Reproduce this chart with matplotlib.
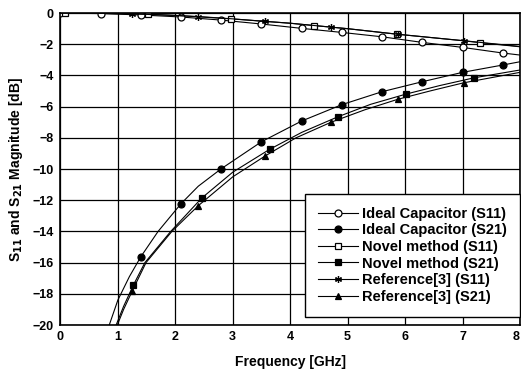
import matplotlib
matplotlib.use("Agg")
import matplotlib.pyplot as plt

plt.rcParams['font.family'] = ['Liberation Sans', 'DejaVu Sans']

# ---- data ----
# Ideal capacitor S11 (line points = marker points plus end)
ideal_s11_f = [0.0, 0.7, 1.4, 2.1, 2.8, 3.5, 4.2, 4.9, 5.6, 6.3, 7.0, 7.7, 8.0]
ideal_s11_db = [0.0, -0.03, -0.12, -0.25, -0.45, -0.7, -0.98, -1.24, -1.52, -1.88, -2.2, -2.56, -2.69]
ideal_s11_mk_f = [0.0, 0.7, 1.4, 2.1, 2.8, 3.5, 4.2, 4.9, 5.6, 6.3, 7.0, 7.7]

# Ideal capacitor S21
ideal_s21_f = [0.85, 1.0, 1.2, 1.4, 1.7, 2.1, 2.4, 2.8, 3.5, 4.2, 4.9, 5.6, 6.3, 7.0, 7.7, 8.0]
ideal_s21_db = [-20.0, -18.4, -16.9, -15.62, -14.0, -12.22, -11.1, -9.98, -8.25, -6.92, -5.87, -5.04, -4.40, -3.80, -3.33, -3.12]
ideal_s21_mk_f = [1.4, 2.1, 2.8, 3.5, 4.2, 4.9, 5.6, 6.3, 7.0, 7.7]

# Novel method S11
novel_s11_f = [0.0, 0.08, 1.0, 1.53, 2.0, 2.97, 4.0, 4.42, 5.0, 5.86, 7.0, 7.31, 8.0]
novel_s11_db = [0.0, 0.0, -0.03, -0.07, -0.15, -0.37, -0.65, -0.8, -1.0, -1.35, -1.77, -1.9, -2.16]
novel_s11_mk_f = [0.08, 1.53, 2.97, 4.42, 5.86, 7.31]

# Novel method S21
novel_s21_f = [0.97, 1.1, 1.27, 1.47, 1.92, 2.46, 3.0, 3.64, 4.2, 4.83, 5.4, 6.02, 6.6, 7.20, 8.0]
novel_s21_db = [-20.0, -18.8, -17.44, -16.0, -14.0, -11.86, -10.2, -8.74, -7.65, -6.65, -5.85, -5.19, -4.65, -4.15, -3.65]
novel_s21_mk_f = [1.27, 2.46, 3.64, 4.83, 6.02, 7.20]

# Reference[3] S11
ref_s11_f = [0.0, 1.0, 1.25, 2.0, 2.40, 3.0, 3.56, 4.0, 4.71, 5.0, 5.87, 7.02, 8.0]
ref_s11_db = [0.0, -0.03, -0.05, -0.15, -0.22, -0.37, -0.53, -0.65, -0.9, -1.0, -1.36, -1.77, -2.14]
ref_s11_mk_f = [1.25, 2.40, 3.56, 4.71, 5.87, 7.02]

# Reference[3] S21
ref_s21_f = [0.99, 1.1, 1.25, 1.49, 1.94, 2.40, 3.0, 3.56, 4.1, 4.71, 5.3, 5.87, 6.45, 7.02, 8.0]
ref_s21_db = [-20.0, -19.0, -17.82, -16.0, -14.0, -12.35, -10.5, -9.17, -8.0, -7.0, -6.2, -5.53, -4.98, -4.47, -3.8]
ref_s21_mk_f = [1.25, 2.40, 3.56, 4.71, 5.87, 7.02]

x_ticks = [0, 1, 2, 3, 4, 5, 6, 7, 8]
y_ticks = [0, -2, -4, -6, -8, -10, -12, -14, -16, -18, -20]

labels = ["Ideal Capacitor (S11)", "Ideal Capacitor (S21)", "Novel method (S11)",
          "Novel method (S21)", "Reference[3] (S11)", "Reference[3] (S21)"]

fig = plt.figure(figsize=(5.21, 3.74), dpi=100)
ax = fig.add_axes([0.116, 0.131, 0.882, 0.834])

asterisk = (6, 2, 0)
series = [
    (ideal_s11_f, ideal_s11_db, ideal_s11_mk_f, 'o', 'white'),
    (ideal_s21_f, ideal_s21_db, ideal_s21_mk_f, 'o', 'black'),
    (novel_s11_f, novel_s11_db, novel_s11_mk_f, 's', 'white'),
    (novel_s21_f, novel_s21_db, novel_s21_mk_f, 's', 'black'),
    (ref_s11_f, ref_s11_db, ref_s11_mk_f, asterisk, 'black'),
    (ref_s21_f, ref_s21_db, ref_s21_mk_f, '^', 'black'),
]

handles = []
for (f, db, mkf, mk, fc), lab in zip(series, labels):
    idx = [f.index(v) for v in mkf]
    h, = ax.plot(f, db, color='black', lw=0.8, marker=mk, markevery=idx,
                 markersize=5, markerfacecolor=fc, markeredgecolor='black',
                 markeredgewidth=0.9, label=lab, clip_on=True)
    handles.append(h)

ax.set_xlim(0, 8)
ax.set_ylim(-20, 0)
ax.set_xticks(x_ticks)
ax.set_yticks(y_ticks)
ax.grid(True, color='black', lw=0.9)
ax.tick_params(length=0, labelsize=9)
ax.tick_params(axis='x', pad=4)
ax.tick_params(axis='y', pad=5)
for lbl in ax.get_xticklabels() + ax.get_yticklabels():
    lbl.set_fontweight('bold')
ax.get_xticklabels()[-1].set_horizontalalignment('right')
for s in ax.spines.values():
    s.set_linewidth(1.2)
    s.set_color('black')

ax.set_xlabel("Frequency [GHz]", fontsize=10, fontweight='bold', labelpad=9)
ax.set_ylabel("S$_{\\mathbf{11}}$ and S$_{\\mathbf{21}}$ Magnitude [dB]", fontsize=10,
              fontweight='bold', labelpad=5)

leg = ax.legend(handles=handles, loc='lower right', bbox_to_anchor=(1.0, 0.026),
                frameon=True, fancybox=False, edgecolor='black', framealpha=1,
                prop={'weight': 'bold', 'size': 10.5}, handlelength=2.7,
                handletextpad=0.3, labelspacing=0.18, borderpad=0.9,
                borderaxespad=0.0)
leg.get_frame().set_linewidth(1.0)

fig.savefig("out.png", dpi=100)
